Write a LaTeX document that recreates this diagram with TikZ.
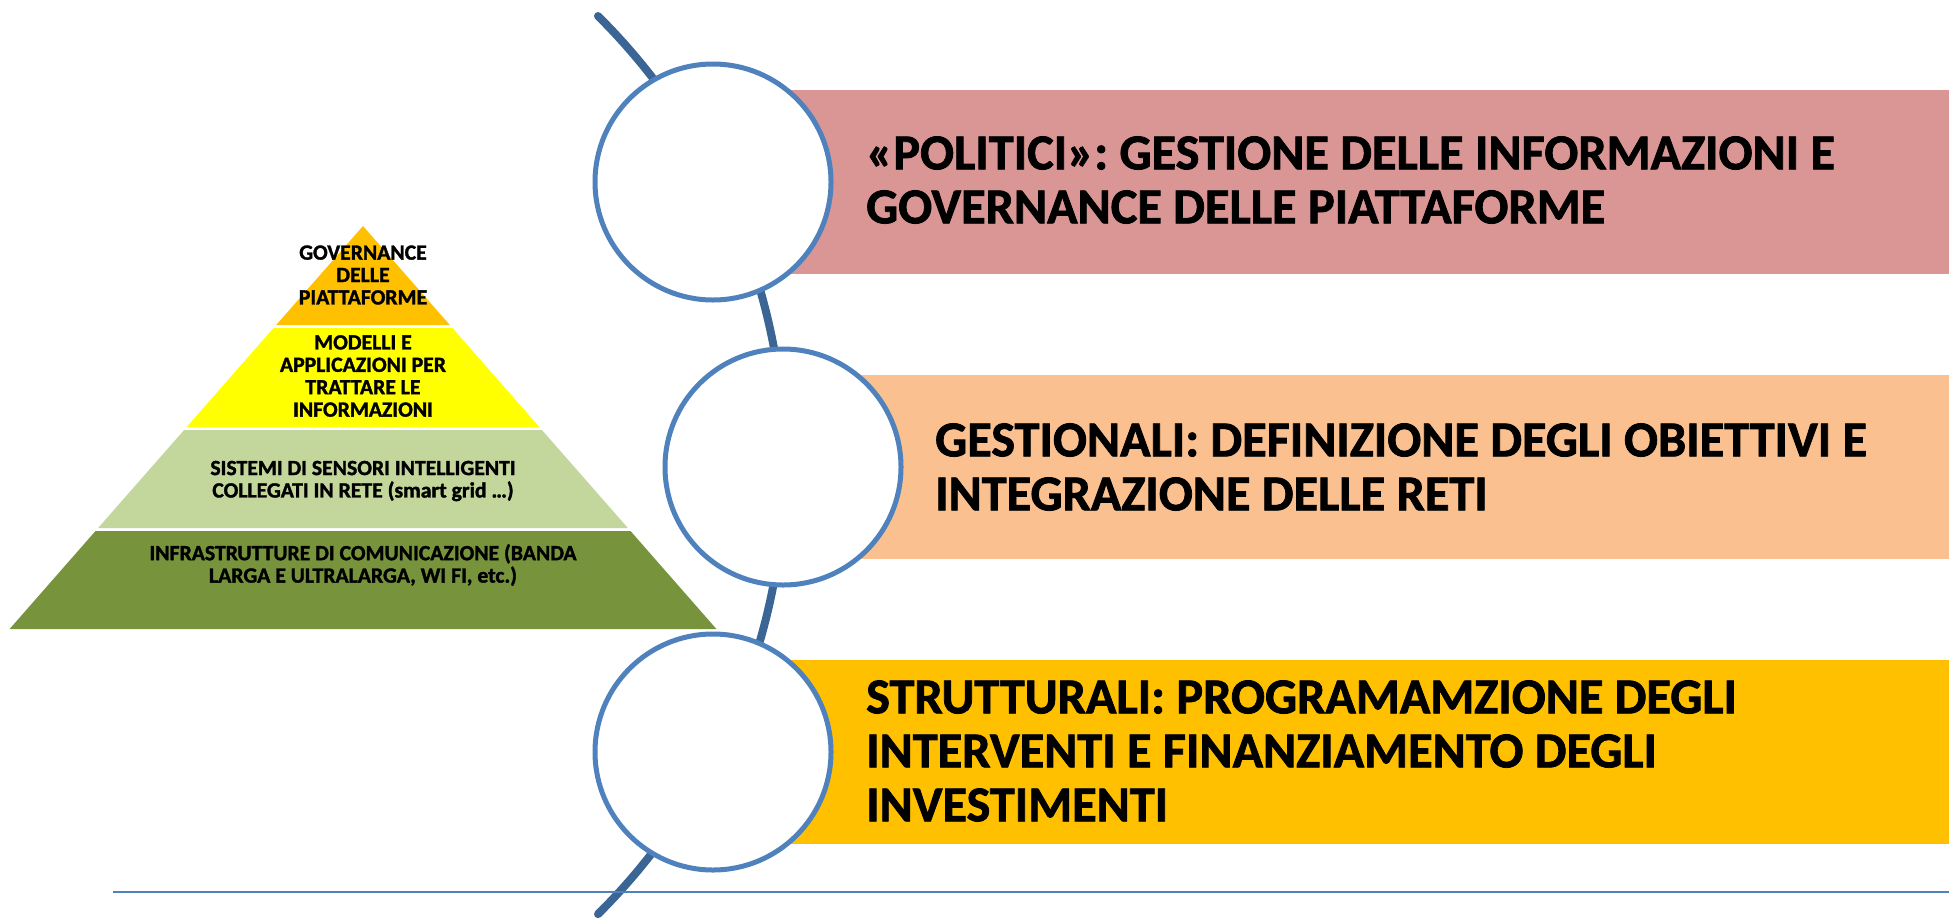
\documentclass[tikz,border=0pt]{standalone}
\usepackage{fontspec}
\setmainfont{Carlito}
\newfontfamily\heavyfont{Carlito}[UprightFont=*-Bold,UprightFeatures={FakeBold=1.5}]
\definecolor{pyrTop}{HTML}{FFC000}
\definecolor{pyrYel}{HTML}{FFFF00}
\definecolor{pyrLG}{HTML}{C3D69B}
\definecolor{pyrDG}{HTML}{77933C}
\definecolor{barPink}{HTML}{D99694}
\definecolor{barPeach}{HTML}{FAC090}
\definecolor{barAmber}{HTML}{FFC000}
\definecolor{ringBlue}{HTML}{4F81BD}
\definecolor{arcBlue}{HTML}{3B6595}
\begin{document}
\begin{tikzpicture}[x=1pt,y=-1pt,
  tiertext/.style={align=center,inner sep=0pt,font=\heavyfont\fontsize{21.7}{22.4}\selectfont,text=black},
  bar/.style={draw=none,minimum height=184pt,inner sep=0pt,anchor=west},
  bartext/.style={align=left,anchor=west,inner sep=0pt,font=\heavyfont\fontsize{50.3}{54}\selectfont,text=black},
  ring/.style={circle,draw=ringBlue,line width=5pt,fill=white,minimum size=236pt,inner sep=0pt},
  arcline/.style={draw=arcBlue,line width=8pt,line cap=round},
  baseline rule/.style={draw=ringBlue,line width=2.5pt}]
\useasboundingbox (0,0) rectangle (1949,919);
% pyramid
\fill[pyrTop]  (363,226) -- (449.8,325) -- (276.2,325) -- cycle;
\fill[pyrYel]  (273.5,328) -- (452.5,328) -- (539.3,427) -- (186.7,427) -- cycle;
\fill[pyrLG]   (184.1,430) -- (541.9,430) -- (627.9,528) -- (98.1,528) -- cycle;
\fill[pyrDG]   (95.5,531) -- (630.5,531) -- (716.4,629) -- (9.6,629) -- cycle;
\node[tiertext] (t1) at (363,275) {GOVERNANCE\\DELLE\\PIATTAFORME};
\node[tiertext] (t2) at (363,376) {MODELLI E\\APPLICAZIONI PER\\TRATTARE LE\\INFORMAZIONI};
\node[tiertext] (t3) at (363,481) {SISTEMI DI SENSORI INTELLIGENTI\\COLLEGATI IN RETE (smart grid …)};
\node[tiertext] (t4) at (363,565) {INFRASTRUTTURE DI COMUNICAZIONE (BANDA\\LARGA E ULTRALARGA, WI FI, etc.)};
% bars
\node[bar,fill=barPink,minimum width=1236pt]  (b1) at (713,182) {};
\node[bar,fill=barPeach,minimum width=1166pt] (b2) at (783,467) {};
\node[bar,fill=barAmber,minimum width=1236pt] (b3) at (713,752) {};
% arc
\coordinate (arcTop) at (598,16);
\draw[arcline] (arcTop) arc[start angle=-45.19, end angle=45.19, radius=633];
% circles
\node[ring] (c1) at (713,182) {};
\node[ring] (c2) at (783,467) {};
\node[ring] (c3) at (713,752) {};
% texts
\node[bartext] (x1) at (866,180) {«POLITICI»: GESTIONE DELLE INFORMAZIONI E\\GOVERNANCE DELLE PIATTAFORME};
\node[bartext] (x2) at (935,467) {GESTIONALI: DEFINIZIONE DEGLI OBIETTIVI E\\INTEGRAZIONE DELLE RETI};
\node[bartext] (x3) at (866,751) {STRUTTURALI: PROGRAMAMZIONE DEGLI\\INTERVENTI E FINANZIAMENTO DEGLI\\INVESTIMENTI};
% bottom rule
\coordinate (ruleL) at (113,892);
\coordinate (ruleR) at (1949,892);
\draw[baseline rule] (ruleL) -- (ruleR);
\end{tikzpicture}
\end{document}
